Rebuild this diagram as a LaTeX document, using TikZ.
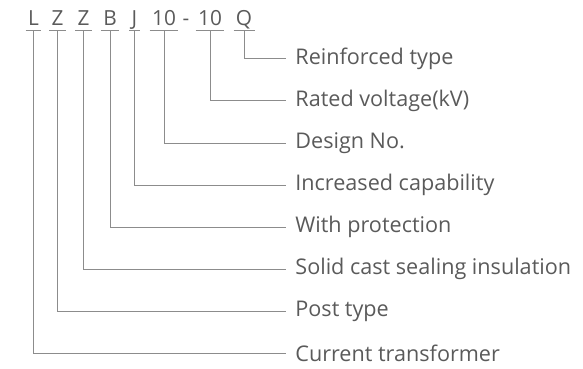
\documentclass[tikz,border=0pt]{standalone}
\usepackage{fontspec}
\setmainfont{Open Sans}
\usepackage{xcolor}
\usepackage{tikz}
\usetikzlibrary{positioning,calc}
\definecolor{codegray}{HTML}{5A5A5A}
\definecolor{linegray}{HTML}{8C8C8C}
\tikzset{
  codeletter/.style={anchor=base, inner xsep=1pt, inner ysep=2pt, text depth=0pt, font=\fontsize{10.4}{12}\selectfont, text=codegray},
  codeline/.style={line width=0.5pt, draw=linegray},
  meaning/.style={anchor=west, inner xsep=4.5pt, inner ysep=1pt, font=\fontsize{10.8}{13}\selectfont, text=codegray},
  leader/.style={line width=0.5pt, draw=linegray}
}
\begin{document}
\begin{tikzpicture}[x=0.5pt, y=-0.5pt]
  \useasboundingbox (0,0) rectangle (583,369);
  % model code
  \node[codeletter] (cL) at (33.5,26) {L};
  \node[codeletter] (cZa) at (57.5,26) {Z};
  \node[codeletter] (cZb) at (83.5,26) {Z};
  \node[codeletter] (cB) at (110,26) {B};
  \node[codeletter] (cJ) at (134.5,26) {J};
  \node[codeletter] (cTa) at (164,26) {10};
  \node[codeletter] (cHy) at (186,26) {-};
  \node[codeletter] (cTb) at (210,26) {10};
  \node[codeletter] (cQ) at (244,26) {Q};
  \foreach \c in {cL,cZa,cZb,cB,cJ,cTa,cTb,cQ}
    \draw[codeline] (\c.south west) -- (\c.south east);
  % meanings
  \node[meaning] (mQ) at (286,59) {Reinforced type};
  \node[meaning] (mTb) at (286,101) {Rated voltage(kV)};
  \node[meaning] (mTa) at (286,143) {Design No.};
  \node[meaning] (mJ) at (286,185) {Increased capability};
  \node[meaning] (mB) at (286,227) {With protection};
  \node[meaning] (mZb) at (286,269) {Solid cast sealing insulation};
  \node[meaning] (mZa) at (286,311) {Post type};
  \node[meaning] (mL) at (286,353) {Current transformer};
  % leaders
  \foreach \c in {Q,Tb,Ta,J,B,Zb,Za,L}
    \draw[leader] (c\c.south) |- (m\c.west);
\end{tikzpicture}
\end{document}
